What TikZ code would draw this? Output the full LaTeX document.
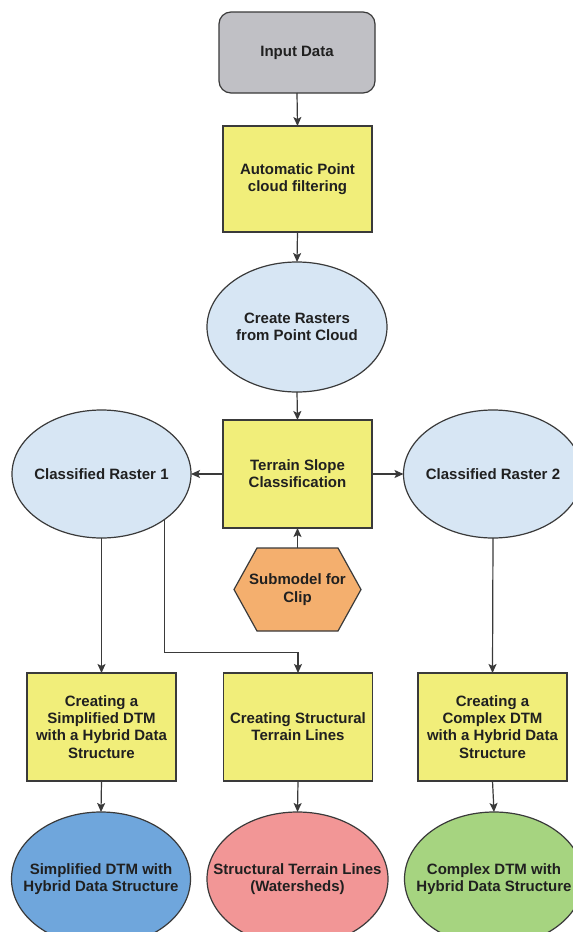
\documentclass[tikz,border=0pt]{standalone}
\usepackage{fontspec}
\setmainfont{Liberation Sans}
\usetikzlibrary{shapes.geometric,arrows.meta,calc}

\definecolor{edge}{RGB}{58,58,58}
\definecolor{ink}{RGB}{32,32,32}
\definecolor{inputgray}{RGB}{192,192,197}
\definecolor{procyellow}{RGB}{241,238,122}
\definecolor{datablue}{RGB}{215,230,244}
\definecolor{cliporange}{RGB}{244,175,110}
\definecolor{outblue}{RGB}{111,166,220}
\definecolor{outpink}{RGB}{242,150,150}
\definecolor{outgreen}{RGB}{166,212,128}

\begin{document}
\begin{tikzpicture}[x=1pt,y=-1pt,
  txt/.style={align=center, text=ink, inner sep=0pt,
    font=\bfseries\fontsize{15}{17.25}\selectfont},
  base/.style={draw=edge, line width=1.2pt, inner sep=0pt, outer sep=0pt, txt},
  inputbox/.style={base, rectangle, rounded corners=12pt, fill=inputgray,
    minimum width=156pt, minimum height=81pt},
  procbox/.style={base, rectangle, fill=procyellow,
    minimum width=149pt, minimum height=107pt},
  dataell/.style={base, ellipse, fill=datablue,
    minimum width=179pt, minimum height=128pt},
  outell/.style={base, ellipse, minimum width=179pt, minimum height=134pt},
  hexlabel/.style={base, draw=none, rectangle,
    minimum width=127pt, minimum height=83pt},
  hexfill/.style={draw=edge, line width=1.2pt, fill=cliporange, line join=miter},
  conn/.style={draw=edge, line width=1.2pt,
    -{Stealth[length=9pt,width=8pt,inset=2pt]}},
]
\useasboundingbox (0,0) rectangle (573,932);
\clip (0,0) rectangle (573,932);
\fill[white] (0,0) rectangle (573,932);

% main chain
\node[inputbox] (input) at (297,52.5) {Input Data};
\node[procbox, minimum height=106pt] (filter) at (297.5,179) {Automatic Point\\cloud filtering};
\node[dataell, minimum width=180pt, minimum height=130pt,
  label={[txt]center:Create Rasters\\from Point Cloud}] (rasters) at (297,327) {};
\node[procbox, minimum height=108pt] (slope) at (297.5,474) {Terrain Slope\\Classification};

% classified rasters
\node[dataell, label={[txt]center:Classified Raster 1}] (cr1) at (101.5,474) {};
\node[dataell, label={[txt]center:Classified Raster 2}] (cr2) at (493,474) {};

% clip submodel (hexagon)
\coordinate (clipc) at (297.5,589.5);
\draw[hexfill] ($(clipc)+(-63.5,0)$) -- ($(clipc)+(-40.5,-41.5)$)
  -- ($(clipc)+(40.5,-41.5)$) -- ($(clipc)+(63.5,0)$)
  -- ($(clipc)+(40.5,41.5)$) -- ($(clipc)+(-40.5,41.5)$) -- cycle;
\node[hexlabel] (clip) at (clipc) {Submodel for\\Clip};

% processing steps
\node[procbox, minimum height=108pt] (simp) at (101.5,727) {Creating a\\Simplified DTM\\with a Hybrid Data\\Structure};
\node[procbox, minimum height=108pt] (struct) at (298,727) {Creating Structural\\Terrain Lines};
\node[procbox, minimum height=108pt] (comp) at (492.5,727) {Creating a\\Complex DTM\\with a Hybrid Data\\Structure};

% outputs
\node[outell, fill=outblue,
  label={[txt]center:Simplified DTM with\\Hybrid Data Structure}] (simpout) at (101,879) {};
\node[outell, fill=outpink, minimum width=181pt,
  label={[txt]center:Structural Terrain Lines\\(Watersheds)}] (structout) at (297.5,879) {};
\node[outell, fill=outgreen,
  label={[txt]center:Complex DTM with\\Hybrid Data Structure}] (compout) at (494,879) {};

% connectors
\draw[conn] (input.south) -- (filter.north);
\draw[conn] (filter.south) -- (rasters.north);
\draw[conn] (rasters.south) -- (slope.north);
\draw[conn] (slope.west) -- (cr1.east);
\draw[conn] (slope.east) -- (cr2.west);
\draw[conn] (clip.north) -- (slope.south);
\draw[conn] (cr1.south) -- (simp.north);
\coordinate (bend) at (165.5,652.5);
\draw[conn] (cr1.south east) -- (cr1.south east |- bend) -| (struct.north);
\draw[conn] (cr2.south) -- (comp.north);
\draw[conn] (simp.south) -- (simpout.north);
\draw[conn] (struct.south) -- (structout.north);
\draw[conn] (comp.south) -- (compout.north);
\end{tikzpicture}
\end{document}
